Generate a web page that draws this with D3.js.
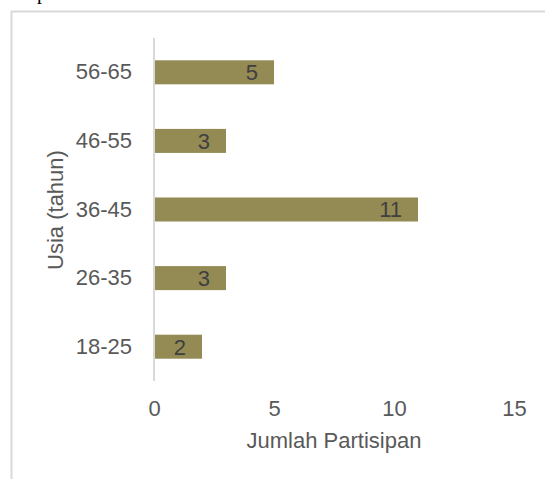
<!DOCTYPE html>
<html>
<head>
<meta charset="utf-8">
<script src="https://cdn.jsdelivr.net/npm/d3@7"></script>
<style>
  body { margin: 0; background: #fff; }
  svg { display: block; font-family: "Liberation Sans", Arial, sans-serif; }
</style>
</head>
<body>
<svg width="545" height="479"></svg>
<script>
// data
var groups = ["18-25", "26-35", "36-45", "46-55", "56-65"];
var counts = [2, 3, 11, 3, 5];
var xTicks = [0, 5, 10, 15];

var data = groups.map((g, i) => ({ group: g, n: counts[i] }));

var svg = d3.select("svg");

// cropped text bit above the frame
svg.append("text").attr("x", 37).attr("y", -1)
    .style("font-family", "'Liberation Serif', serif").style("font-size", "20px")
    .attr("fill", "#000").text("p");

// chart frame (only top and left edges visible)
svg.append("path").attr("d", "M11.5,479V11.5H545")
    .attr("fill", "none").attr("stroke", "#d9d9d9").attr("stroke-width", 2);

var x = d3.scaleLinear().domain([0, 15]).range([154, 514]);
var y = d3.scaleBand().domain(groups.slice().reverse()).range([38, 381]).paddingInner(0.65).paddingOuter(0.325);

// bars
svg.selectAll("rect.bar").data(data).enter().append("rect")
    .attr("class", "bar")
    .attr("x", x(0))
    .attr("y", d => y(d.group))
    .attr("width", d => x(d.n) - x(0))
    .attr("height", y.bandwidth())
    .attr("fill", "#948a54");

// value labels, inside end
svg.selectAll("text.val").data(data).enter().append("text")
    .attr("class", "val")
    .attr("x", d => x(d.n) - 16)
    .attr("y", d => y(d.group) + y.bandwidth() / 2)
    .attr("dy", "0.36em")
    .attr("text-anchor", "end")
    .attr("fill", "#404040")
    .style("font-size", "22px")
    .text(d => d.n);

// vertical axis line
svg.append("line").attr("x1", x(0)).attr("x2", x(0)).attr("y1", 38).attr("y2", 381)
    .attr("stroke", "#d9d9d9").attr("stroke-width", 2);

// y category labels
var yAxis = svg.append("g").attr("transform", "translate(" + (x(0) - 1) + ",0)")
    .call(d3.axisLeft(y).tickSize(0).tickPadding(21));
yAxis.select(".domain").remove();
yAxis.selectAll("text").attr("fill", "#595959").style("font-size", "22px")
    .style("font-family", "'Liberation Sans', Arial, sans-serif");

// x tick labels
var xAxis = svg.append("g").attr("transform", "translate(0,400)")
    .call(d3.axisBottom(x).tickValues(xTicks).tickSize(0).tickPadding(0));
xAxis.select(".domain").remove();
xAxis.selectAll("text").attr("fill", "#595959").style("font-size", "22px")
    .style("font-family", "'Liberation Sans', Arial, sans-serif")
    .attr("dy", "0.72em");

// axis titles
svg.append("text").attr("x", 334).attr("y", 448).attr("text-anchor", "middle")
    .attr("fill", "#595959").style("font-size", "22px").text("Jumlah Partisipan");
svg.append("text").attr("transform", "translate(63,210) rotate(-90)").attr("text-anchor", "middle")
    .attr("fill", "#595959").style("font-size", "22px").text("Usia (tahun)");
</script>
</body>
</html>
